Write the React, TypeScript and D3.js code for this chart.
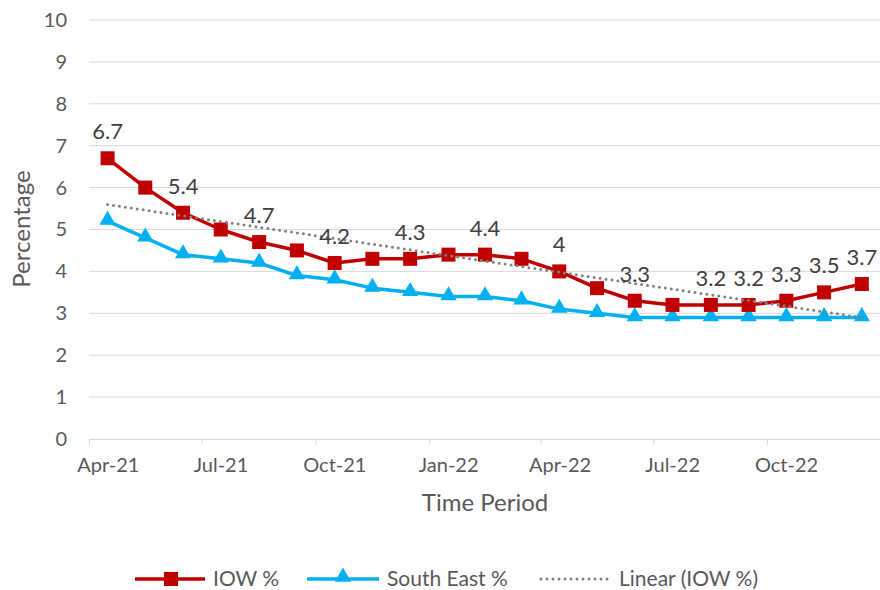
import React, { useRef, useEffect } from 'react';
import * as d3 from 'd3';

const months = [
  'Apr-21', 'May-21', 'Jun-21', 'Jul-21', 'Aug-21', 'Sep-21', 'Oct-21', 'Nov-21', 'Dec-21',
  'Jan-22', 'Feb-22', 'Mar-22', 'Apr-22', 'May-22', 'Jun-22', 'Jul-22', 'Aug-22', 'Sep-22',
  'Oct-22', 'Nov-22', 'Dec-22',
];
const iowValues = [6.7, 6.0, 5.4, 5.0, 4.7, 4.5, 4.2, 4.3, 4.3, 4.4, 4.4, 4.3, 4.0, 3.6, 3.3, 3.2, 3.2, 3.2, 3.3, 3.5, 3.7];
const southEastValues = [5.2, 4.8, 4.4, 4.3, 4.2, 3.9, 3.8, 3.6, 3.5, 3.4, 3.4, 3.3, 3.1, 3.0, 2.9, 2.9, 2.9, 2.9, 2.9, 2.9, 2.9];
// data labels that Excel shows on the IOW series (null = hidden)
const iowLabels = ['6.7', null, '5.4', null, '4.7', null, '4.2', null, '4.3', null, '4.4', null, '4', null, '3.3', null, '3.2', '3.2', '3.3', '3.5', '3.7'];
const yTicks = [0, 1, 2, 3, 4, 5, 6, 7, 8, 9, 10];

const RED = '#C00000';
const BLUE = '#00B0F0';
const GREY = '#808080';
const TEXT = '#595959';
const GRID = '#D9D9D9';
const FONT = 'Lato, "Open Sans", sans-serif';

const App = () => {
  const svgRef = useRef<SVGSVGElement>(null);

  useEffect(() => {
    const svg = d3.select(svgRef.current);
    svg.selectAll('*').remove();

    const parse = d3.timeParse('%b-%y');
    const dates = months.map((m) => parse(m) as Date);
    const start = dates[0];
    const end = d3.timeMonth.offset(dates[dates.length - 1], 1);

    const x = d3.scaleTime().domain([start, end]).range([89, 881]);
    const y = d3.scaleLinear().domain([0, 10]).range([439, 20]);
    // points sit in the middle of their month
    const px = (i: number) => (x(dates[i]) + x(d3.timeMonth.offset(dates[i], 1))) / 2;
    const halfMonth = (x(end) - x(start)) / months.length / 2;

    // gridlines
    svg.append('g')
      .selectAll('line')
      .data(yTicks.slice(1))
      .join('line')
      .attr('x1', 89).attr('x2', 881)
      .attr('y1', (d) => y(d)).attr('y2', (d) => y(d))
      .attr('stroke', GRID).attr('stroke-width', 1);

    // y axis labels
    const yAxis = svg.append('g')
      .attr('transform', 'translate(67,0)')
      .call(d3.axisLeft(y).tickValues(yTicks).tickSize(0).tickPadding(0));
    yAxis.select('.domain').remove();
    yAxis.selectAll('text')
      .attr('font-family', FONT).attr('font-size', 20).attr('fill', TEXT);

    // x axis: ticks on quarter boundaries, labels centred in the month
    const xAxis = svg.append('g')
      .attr('transform', 'translate(0,439)')
      .call(
        d3.axisBottom(x)
          .tickValues(dates.filter((_, i) => i % 3 === 0))
          .tickFormat((d) => d3.timeFormat('%b-%y')(d as Date))
          .tickSize(6)
          .tickPadding(13),
      );
    xAxis.select('.domain').attr('stroke', GRID).attr('d', 'M89.5,0.5H881');
    xAxis.selectAll('line').attr('stroke', GRID);
    xAxis.selectAll('text')
      .attr('dx', halfMonth)
      .attr('font-family', FONT).attr('font-size', 20).attr('fill', TEXT);

    // axis titles
    svg.append('text')
      .attr('x', 485).attr('y', 511)
      .attr('text-anchor', 'middle')
      .attr('font-family', FONT).attr('font-size', 24).attr('fill', TEXT)
      .text('Time Period');
    svg.append('text')
      .attr('transform', 'translate(30,229) rotate(-90)')
      .attr('text-anchor', 'middle')
      .attr('font-family', FONT).attr('font-size', 24).attr('fill', TEXT)
      .text('Percentage');

    const line = d3.line<number>().x((_, i) => px(i)).y((d) => y(d));

    // South East series
    svg.append('path')
      .attr('d', line(southEastValues))
      .attr('fill', 'none').attr('stroke', BLUE).attr('stroke-width', 3.5)
      .attr('stroke-linejoin', 'round');
    const tri = d3.symbol().type(d3.symbolTriangle).size(115);
    svg.append('g')
      .selectAll('path')
      .data(southEastValues)
      .join('path')
      .attr('d', tri)
      .attr('transform', (d, i) => `translate(${px(i)},${y(d) - 1})`)
      .attr('fill', BLUE);

    // IOW series
    svg.append('path')
      .attr('d', line(iowValues))
      .attr('fill', 'none').attr('stroke', RED).attr('stroke-width', 3.5)
      .attr('stroke-linejoin', 'round');
    svg.append('g')
      .selectAll('rect')
      .data(iowValues)
      .join('rect')
      .attr('x', (_, i) => px(i) - 7)
      .attr('y', (d) => y(d) - 7)
      .attr('width', 14).attr('height', 14)
      .attr('fill', RED);

    // linear trendline of IOW (least squares on month index)
    const idx = iowValues.map((_, i) => i);
    const mx = d3.mean(idx) as number;
    const my = d3.mean(iowValues) as number;
    const slope = d3.sum(idx, (i) => (i - mx) * (iowValues[i] - my)) / d3.sum(idx, (i) => (i - mx) ** 2);
    const intercept = my - slope * mx;
    const last = iowValues.length - 1;
    svg.append('line')
      .attr('x1', px(0)).attr('y1', y(intercept))
      .attr('x2', px(last)).attr('y2', y(intercept + slope * last))
      .attr('stroke', GREY).attr('stroke-width', 3)
      .attr('stroke-dasharray', '0 6').attr('stroke-linecap', 'round');

    // data labels
    const labelG = svg.append('g');
    iowLabels.forEach((lab, i) => {
      if (lab === null) return;
      labelG.append('text')
        .attr('x', px(i))
        .attr('y', y(iowValues[i]) - 19)
        .attr('text-anchor', 'middle')
        .attr('font-family', FONT).attr('font-size', 22).attr('fill', '#404040')
        .text(lab);
    });

    // legend
    const legend = svg.append('g').attr('transform', 'translate(0,579)');
    legend.append('line').attr('x1', 135).attr('x2', 205).attr('stroke', RED).attr('stroke-width', 3.5);
    legend.append('rect').attr('x', 164).attr('y', -7).attr('width', 14).attr('height', 14).attr('fill', RED);
    legend.append('text').attr('x', 213).attr('y', 7)
      .attr('font-family', FONT).attr('font-size', 21).attr('fill', TEXT).text('IOW %');
    legend.append('line').attr('x1', 307).attr('x2', 379).attr('stroke', BLUE).attr('stroke-width', 3.5);
    legend.append('path').attr('d', tri).attr('transform', 'translate(343,-2)').attr('fill', BLUE);
    legend.append('text').attr('x', 387).attr('y', 7)
      .attr('font-family', FONT).attr('font-size', 21).attr('fill', TEXT).text('South East %');
    legend.append('line').attr('x1', 541).attr('x2', 610)
      .attr('stroke', GREY).attr('stroke-width', 3)
      .attr('stroke-dasharray', '0 6').attr('stroke-linecap', 'round');
    legend.append('text').attr('x', 619).attr('y', 7)
      .attr('font-family', FONT).attr('font-size', 21).attr('fill', TEXT).text('Linear (IOW %)');
  }, []);

  return (
    <div style={{ position: 'absolute', left: 0, top: 0 }}>
      <svg ref={svgRef} width={880} height={590} style={{ display: 'block', background: '#fff' }} />
    </div>
  );
};

export default App;
